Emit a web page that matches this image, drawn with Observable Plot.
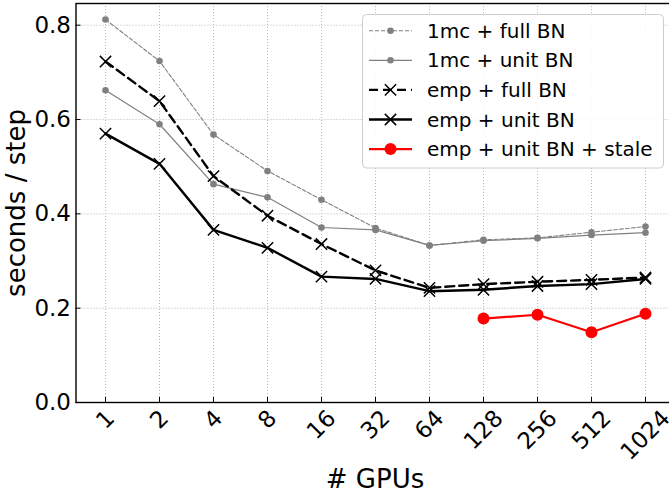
<!DOCTYPE html>
<html><head><meta charset="utf-8">
<script src="https://cdn.jsdelivr.net/npm/d3@7"></script>
<script src="https://cdn.jsdelivr.net/npm/@observablehq/plot@0.6"></script>
<style>
html,body{margin:0;padding:0;background:#fff;overflow:hidden;}
#wrap{position:relative;width:669px;height:493px;overflow:hidden;}
#wrap svg{overflow:hidden;}
#legend{position:absolute;left:362px;top:14px;}
</style></head><body><div id="wrap"></div>
<script>
// ---- data ----
const gpus = [1, 2, 4, 8, 16, 32, 64, 128, 256, 512, 1024];
const yTicks = [0, 0.2, 0.4, 0.6, 0.8];
const seriesNames = ["1mc + full BN", "1mc + unit BN", "emp + full BN", "emp + unit BN", "emp + unit BN + stale"];
const mcFull  = [0.812, 0.724, 0.568, 0.491, 0.430, 0.370, 0.333, 0.345, 0.349, 0.361, 0.373];
const mcUnit  = [0.662, 0.590, 0.463, 0.435, 0.371, 0.366, 0.333, 0.343, 0.348, 0.355, 0.360];
const empFull = [0.723, 0.639, 0.480, 0.396, 0.336, 0.280, 0.243, 0.251, 0.256, 0.260, 0.265];
const empUnit = [0.570, 0.506, 0.366, 0.328, 0.267, 0.262, 0.236, 0.239, 0.247, 0.251, 0.262];
const staleGpus = [128, 256, 512, 1024];
const staleVals = [0.178, 0.186, 0.149, 0.188];
const xLabel = "# GPUs";
const yLabel = "seconds / step";

// ---- styles ----
const styles = [
  {stroke: "#808080", width: 1.1, dash: "4,2", symbol: "circle", r: 3.3, filled: true},
  {stroke: "#808080", width: 1.2, dash: null, symbol: "circle", r: 3.3, filled: true},
  {stroke: "#000000", width: 2.4, dash: "9,5", symbol: "times", r: 5.2, filled: false},
  {stroke: "#000000", width: 2.4, dash: null, symbol: "times", r: 5.2, filled: false},
  {stroke: "#ff0000", width: 2.2, dash: null, symbol: "circle", r: 6, filled: true}
];
const seriesData = [
  gpus.map((g, i) => ({g, v: mcFull[i]})),
  gpus.map((g, i) => ({g, v: mcUnit[i]})),
  gpus.map((g, i) => ({g, v: empFull[i]})),
  gpus.map((g, i) => ({g, v: empUnit[i]})),
  staleGpus.map((g, i) => ({g, v: staleVals[i]}))
];

const W = 669, H = 493;
const mL = 75.5, mR = -4.5, mT = 3, mB = 91;
const frameW = W - mL - mR, frameH = H - mT - mB;
const font = "DejaVu Sans";
const tickFs = 23;

const marks = [];
// grid
marks.push(Plot.ruleX(gpus, {x: d => d, stroke: "#b0b0b0", strokeWidth: 0.9, strokeDasharray: "1,2"}));
marks.push(Plot.ruleY(yTicks, {y: d => d, stroke: "#b0b0b0", strokeWidth: 0.9, strokeDasharray: "1,2"}));
// inward ticks
marks.push(Plot.ruleX(gpus, {x: d => d, insetTop: frameH - 5, stroke: "black", strokeWidth: 1}));
marks.push(Plot.ruleY(yTicks, {y: d => d, insetRight: frameW - 5, stroke: "black", strokeWidth: 1}));
// series
seriesData.forEach((data, i) => {
  const s = styles[i];
  marks.push(Plot.line(data, {x: "g", y: "v", stroke: s.stroke, strokeWidth: s.width, strokeDasharray: s.dash}));
  if (s.filled) {
    marks.push(Plot.dot(data, {x: "g", y: "v", r: s.r, fill: s.stroke, stroke: null, symbol: s.symbol}));
  } else {
    marks.push(Plot.dot(data, {x: "g", y: "v", r: s.r, stroke: s.stroke, strokeWidth: 1.5, fill: null, symbol: s.symbol}));
  }
});
// y axis labels
marks.push(Plot.axisY(yTicks, {tickSize: 0, tickPadding: 5, tickFormat: d3.format(".1f"), fontSize: tickFs, label: null, fill: "black"}));
// x tick labels, rotated 45°, centered on tick
const adv = 0.636 * tickFs, capH = 0.729 * tickFs;
[1, 2, 3, 4].forEach(n => {
  const w = n * adv - 2.5;
  const cy = 7 + (w + capH) / (2 * Math.SQRT2);
  marks.push(Plot.text(gpus.filter(g => String(g).length === n), {
    x: d => d, text: d => String(d), frameAnchor: "bottom", dy: cy, rotate: -45,
    fontSize: tickFs, textAnchor: "middle", lineAnchor: "middle", fill: "black"
  }));
});
// axis titles
marks.push(Plot.text([xLabel], {text: d => d, frameAnchor: "bottom", dy: 77, fontSize: 26, textAnchor: "middle", lineAnchor: "middle", fill: "black"}));
marks.push(Plot.text([yLabel], {text: d => d, frameAnchor: "left", dx: -59, rotate: -90, fontSize: 26, textAnchor: "middle", lineAnchor: "middle", fill: "black"}));
marks.push(Plot.frame({stroke: "black", strokeWidth: 1.4}));

const chart = Plot.plot({
  width: W, height: H,
  marginLeft: mL, marginRight: mR, marginTop: mT, marginBottom: mB,
  style: {fontFamily: font, background: "white", overflow: "hidden"},
  x: {type: "point", domain: gpus, padding: 0.5, axis: null},
  y: {domain: [0, 0.846], axis: null},
  marks
});
const wrap = document.getElementById("wrap");
wrap.appendChild(chart);

// ---- legend (inside axes, upper right) ----
const lg = d3.create("svg").attr("id", "legend").attr("width", 303).attr("height", 156)
  .style("font-family", font);
lg.append("rect").attr("x", 0.5).attr("y", 0.5).attr("width", 301).attr("height", 153.5).attr("rx", 4)
  .attr("fill", "white").attr("fill-opacity", 0.85).attr("stroke", "#cccccc");
seriesNames.forEach((name, i) => {
  const s = styles[i];
  const y = 16.7 + i * 29.6;
  const g = lg.append("g");
  g.append("line").attr("x1", 7).attr("x2", 50).attr("y1", y).attr("y2", y)
    .attr("stroke", s.stroke).attr("stroke-width", s.width).attr("stroke-dasharray", s.dash);
  const sz = Math.PI * s.r * s.r;
  const sym = d3.symbol(s.symbol === "times" ? d3.symbolTimes : d3.symbolCircle, sz)();
  g.append("path").attr("d", sym).attr("transform", `translate(28.5,${y})`)
    .attr("fill", s.filled ? s.stroke : "none").attr("stroke", s.filled ? "none" : s.stroke).attr("stroke-width", 1.5);
  g.append("text").attr("x", 65).attr("y", y).attr("dy", "0.35em").attr("font-size", 20).attr("fill", "black").text(name);
});
wrap.appendChild(lg.node());
</script></body></html>
